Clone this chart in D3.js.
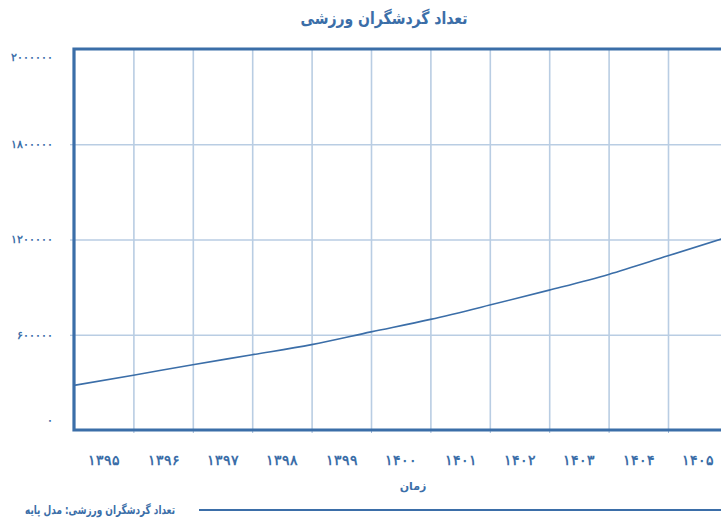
<!DOCTYPE html>
<html><head><meta charset="utf-8">
<script src="https://cdn.jsdelivr.net/npm/d3@7"></script>
<style>
html,body{margin:0;padding:0;background:#fff;}
svg{display:block;font-family:"DejaVu Sans",sans-serif;}
</style></head>
<body>
<svg id="chart" width="721" height="519"></svg>
<script>
// ---- data ----
const years = [1395,1396,1397,1398,1399,1400,1401,1402,1403,1404,1405,1406];
const tourists = [281000,345000,411000,474000,538000,618000,697000,787000,881000,980000,1097000,1215000];
const xLabelYears = [1395,1396,1397,1398,1399,1400,1401,1402,1403,1404,1405];
const xTickLabels = ["۱۳۹۵","۱۳۹۶","۱۳۹۷","۱۳۹۸","۱۳۹۹","۱۴۰۰","۱۴۰۱","۱۴۰۲","۱۴۰۳","۱۴۰۴","۱۴۰۵"];
const yTickValues = [0,600000,1200000,1800000,2400000];
const yTickLabels = ["۰","۶۰۰۰۰۰","۱۲۰۰۰۰۰","۱۸۰۰۰۰۰","۲۰۰۰۰۰۰"];
const titleText = "تعداد گردشگران ورزشی";
const xAxisTitle = "زمان";
const legendText = "تعداد گردشگران ورزشی: مدل پایه";

(function(){
const blue = "#3b6ea8";
const grid = "#b9cde3";
const svg = d3.select("#chart");
const mL = 74, mT = 49, mB = 430, mR = 727.4;

const x = d3.scaleLinear().domain([1395,1406]).range([mL,mR]);
const y = d3.scaleLinear().domain([0,2400000]).range([mB,mT]);

// vertical gridlines
svg.append("g").attr("transform",`translate(0,${mB})`)
  .call(d3.axisBottom(x).tickValues(years.slice(1)).tickSize(-(mB-mT)).tickFormat(""))
  .call(g=>{g.select(".domain").remove();
    g.selectAll("line").attr("stroke",grid).attr("stroke-width",1.6);});
// horizontal gridlines
svg.append("g").attr("transform",`translate(${mL},0)`)
  .call(d3.axisLeft(y).tickValues(yTickValues.slice(1,-1)).tickSize(-(721-mL)).tickFormat(""))
  .call(g=>{g.select(".domain").remove();
    g.selectAll("line").attr("stroke",grid).attr("stroke-width",1.6);});

// small ticks on frame
svg.append("g").attr("transform",`translate(0,${mB})`)
  .call(d3.axisBottom(x).tickValues(years.slice(1)).tickSize(3).tickFormat(""))
  .call(g=>{g.select(".domain").remove();g.selectAll("line").attr("stroke","#9fb9d8");});
svg.append("g").attr("transform",`translate(${mL},0)`)
  .call(d3.axisLeft(y).tickValues(yTickValues.slice(1,-1)).tickSize(4).tickFormat(""))
  .call(g=>{g.select(".domain").remove();g.selectAll("line").attr("stroke","#9fb9d8");});

// frame
svg.append("path")
  .attr("d",`M721,${mT}H${mL}V${mB}H721`)
  .attr("fill","none").attr("stroke",blue).attr("stroke-width",3.2);

// data line
svg.append("path").datum(years.map((d,i)=>[d,tourists[i]]))
  .attr("d",d3.line().curve(d3.curveMonotoneX).x(d=>x(d[0])).y(d=>y(d[1])))
  .attr("fill","none").attr("stroke",blue).attr("stroke-width",1.6);

// x labels
svg.append("g").attr("transform",`translate(0,${mB+28})`)
  .call(d3.axisBottom(x).tickValues(xLabelYears.map(d=>d+0.5)).tickSize(0)
    .tickFormat((d,i)=>xTickLabels[i]))
  .call(g=>{g.select(".domain").remove();
    g.selectAll("text").attr("fill",blue).attr("font-size",13.5).attr("font-weight","bold").attr("dy","0.3em");});

// y labels
svg.append("g").attr("transform",`translate(53,0)`)
  .call(d3.axisLeft(y).tickValues(yTickValues).tickSize(0).tickPadding(0)
    .tickFormat((d,i)=>yTickLabels[i]))
  .call(g=>{g.select(".domain").remove();
    g.selectAll("text").attr("fill",blue).attr("font-size",10.5).attr("font-weight","bold")
      .attr("direction","ltr")
      .attr("transform",(d,i)=> i===0?"translate(0,-10)": (i===yTickValues.length-1?"translate(0,8)":null));});

// title
svg.append("text").attr("x",384).attr("y",24).attr("text-anchor","middle")
  .attr("fill",blue).attr("font-size",17).attr("font-weight","bold")
  .attr("textLength",167).attr("lengthAdjust","spacingAndGlyphs").text(titleText);
// x axis title
svg.append("text").attr("x",413).attr("y",490).attr("text-anchor","middle")
  .attr("fill",blue).attr("font-size",11).attr("font-weight","bold").text(xAxisTitle);
// legend
svg.append("text").attr("x",175).attr("y",514).attr("text-anchor","end")
  .attr("fill",blue).attr("font-size",12).attr("font-weight","bold")
  .attr("textLength",150).attr("lengthAdjust","spacingAndGlyphs").text(legendText);
svg.append("line").attr("x1",199).attr("x2",721).attr("y1",510).attr("y2",510)
  .attr("stroke",blue).attr("stroke-width",1.8);
})();
</script>
</body></html>
